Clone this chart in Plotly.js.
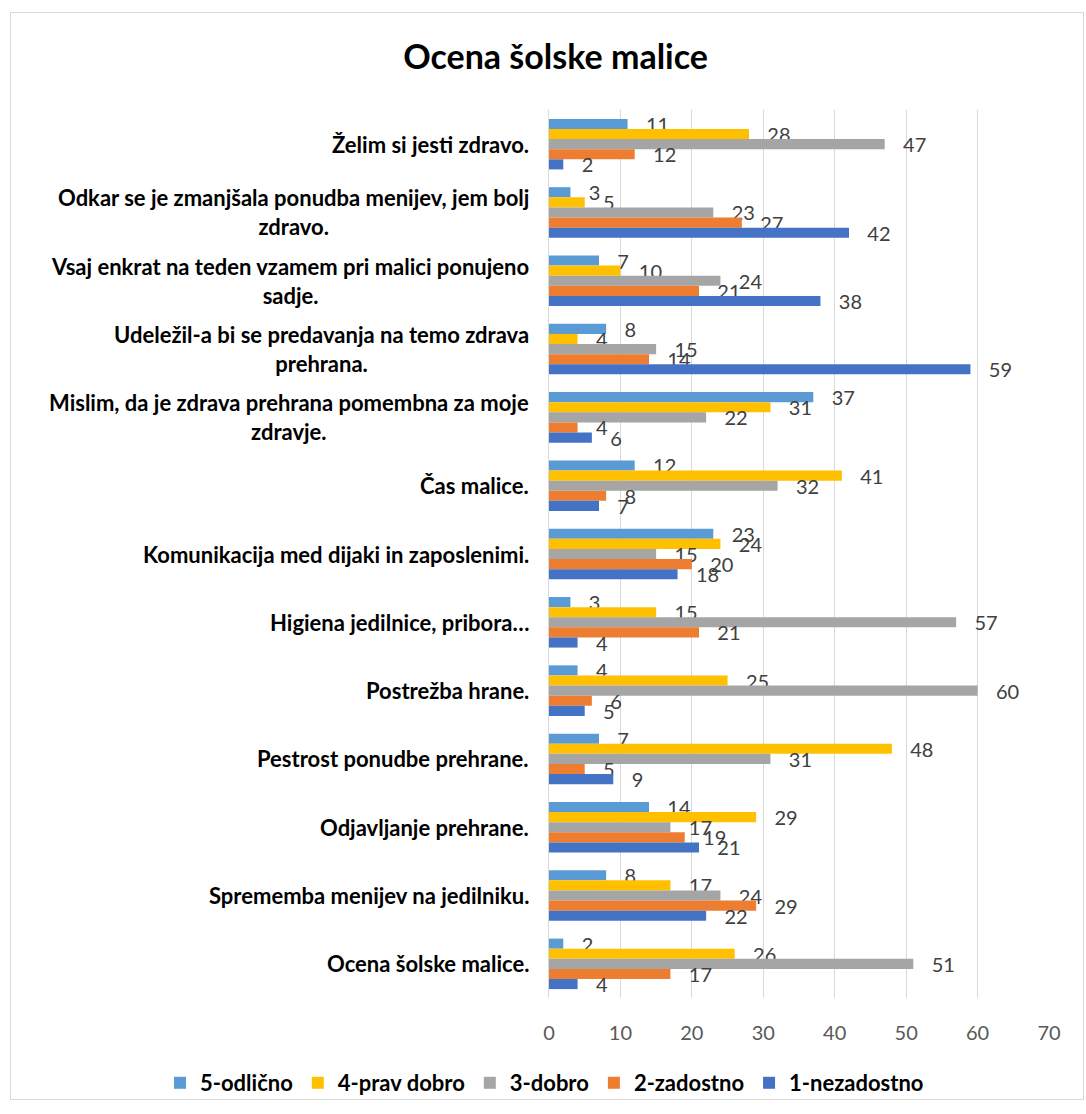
<!DOCTYPE html>
<html>
<head>
<meta charset="utf-8">
<script src="https://cdn.plot.ly/plotly-3.0.1.min.js"></script>
<style>
  html, body { margin: 0; padding: 0; background: #fff; }
  #frame { position: absolute; left: 10px; top: 12px; width: 1074px; height: 1088px; border: 1px solid #d9d9d9; box-sizing: border-box; }
  #chart { width: 100%; height: 100%; }
</style>
</head>
<body>
<div id="frame"><div id="chart"></div></div>
<script>
const categories = [
  "Želim si jesti zdravo.",
  "Odkar se je zmanjšala ponudba menijev, jem bolj<br>zdravo.",
  "Vsaj enkrat na teden vzamem pri malici ponujeno<br>sadje.",
  "Udeležil-a bi se predavanja na temo zdrava<br>prehrana.",
  "Mislim, da je zdrava prehrana pomembna za moje<br>zdravje.",
  "Čas malice.",
  "Komunikacija med dijaki in zaposlenimi.",
  "Higiena jedilnice, pribora…",
  "Postrežba hrane.",
  "Pestrost ponudbe prehrane.",
  "Odjavljanje prehrane.",
  "Sprememba menijev na jedilniku.",
  "Ocena šolske malice."
];
const seriesNames = ["5-odlično", "4-prav dobro", "3-dobro", "2-zadostno", "1-nezadostno"];
const odlicno     = [11, 3, 7, 8, 37, 12, 23, 3, 4, 7, 14, 8, 2];
const pravDobro   = [28, 5, 10, 4, 31, 41, 24, 15, 25, 48, 29, 17, 26];
const dobro       = [47, 23, 24, 15, 22, 32, 15, 57, 60, 31, 17, 24, 51];
const zadostno    = [12, 27, 21, 14, 4, 8, 20, 21, 6, 5, 19, 29, 17];
const nezadostno  = [2, 42, 38, 59, 6, 7, 18, 4, 5, 9, 21, 22, 4];
const xTicks = [0, 10, 20, 30, 40, 50, 60, 70];

const seriesValues = [odlicno, pravDobro, dobro, zadostno, nezadostno];
const colors = ["#5b9bd5", "#ffc000", "#a5a5a5", "#ed7d31", "#4472c4"];
const FONT = "Lato, sans-serif";

const traces = seriesValues.map((vals, i) => ({
  type: "bar",
  orientation: "h",
  name: seriesNames[i],
  x: vals,
  y: categories,
  marker: { color: colors[i] },
  text: vals.map(v => "\u00a0\u00a0\u00a0" + v),
  textposition: "outside",
  constraintext: "none",
  textfont: { family: FONT, size: 20, color: "#404040" },
  cliponaxis: false,
  hoverinfo: "x+name"
}));

const annotations = categories.map(c => ({
  xref: "paper", yref: "y",
  x: 0, y: c,
  xanchor: "right", yanchor: "middle",
  xshift: -18,
  align: "center",
  text: c,
  showarrow: false,
  font: { family: FONT, size: 22, color: "#000", weight: "bold" }
}));

const layout = {
  width: 1072, height: 1086,
  margin: { l: 538, r: 34, t: 97, b: 101, autoexpand: false },
  paper_bgcolor: "#fff",
  plot_bgcolor: "#fff",
  title: {
    text: "<b>Ocena šolske malice</b>",
    font: { family: FONT, size: 34, color: "#000" },
    x: 0.508, xanchor: "center", y: 0.9595, yanchor: "middle"
  },
  barmode: "group",
  bargap: 0.26,
  bargroupgap: 0,
  xaxis: {
    range: [0, 70],
    tickvals: xTicks,
    showgrid: true,
    gridcolor: "#d9d9d9",
    gridwidth: 1,
    zeroline: false,
    showline: false,
    ticks: "",
    tickfont: { family: FONT, size: 20, color: "#595959" },
    ticklabelstandoff: 21
  },
  yaxis: {
    type: "category",
    autorange: "reversed",
    showticklabels: false,
    showgrid: false,
    zeroline: false,
    showline: true,
    linecolor: "#d9d9d9",
    linewidth: 1,
    ticks: ""
  },
  showlegend: true,
  legend: {
    orientation: "h",
    xref: "paper", yref: "paper",
    x: -0.778, xanchor: "left",
    y: -0.0957, yanchor: "middle",
    font: { family: FONT, size: 22, color: "#000", weight: "bold" },
    traceorder: "normal",
    itemwidth: 30
  },
  annotations: annotations
};

Plotly.newPlot("chart", traces, layout, { displayModeBar: false, responsive: false });
</script>
</body>
</html>
